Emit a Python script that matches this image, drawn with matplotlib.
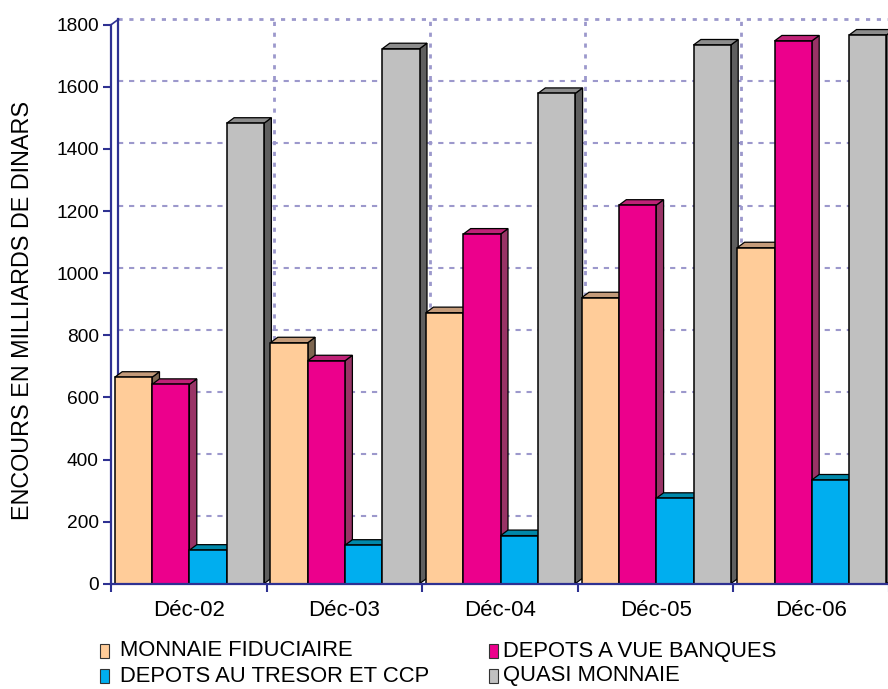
import matplotlib
matplotlib.use('Agg')
import matplotlib.pyplot as plt
from matplotlib.patches import Polygon, Rectangle

categories = ['Déc-02', 'Déc-03', 'Déc-04', 'Déc-05', 'Déc-06']
monnaie_fiduciaire = [665, 776, 873, 921, 1082]
depots_vue_banques = [642, 718, 1126, 1219, 1748]
depots_tresor_ccp = [108, 124, 155, 275, 334]
quasi_monnaie = [1483, 1723, 1579, 1735, 1767]
series_names = ['MONNAIE FIDUCIAIRE', 'DEPOTS A VUE BANQUES',
                'DEPOTS AU TRESOR ET CCP', 'QUASI MONNAIE']
yticks = list(range(0, 1801, 200))

# (front, top, side) colour of each series
colors = [('#ffcc99', '#c49b7a', '#7d6650'),
          ('#ec008c', '#bf2277', '#993366'),
          ('#00aeef', '#0088aa', '#006c8a'),
          ('#c0c0c0', '#8c8c8c', '#5f5f5f')]
axis_blue = '#2e3192'
grid_col = '#9c98cc'

plt.rcParams['font.family'] = 'Liberation Sans'

W, H = 888, 689
# plot area in pixels (front plane)
left_px, right_px, base_px, top_px = 111, 889, 583.7, 24.8
px_cat = (right_px - left_px) / len(categories)
px_val = (base_px - top_px) / 1800

fig = plt.figure(figsize=(W / 100, H / 100), dpi=100)
ax = fig.add_axes([left_px / W, 1 - base_px / H,
                   (right_px - left_px) / W, (base_px - top_px) / H])
ax.set_xlim(0, len(categories))
ax.set_ylim(0, 1800)

# 3d depth in data units
dx = 7.4 / px_cat
dy = 5.5 / px_val
bar_w = 37.3 / px_cat
bar_off = 3.8 / px_cat


def bar3d(x0, h, cols, z):
    front, top, side = cols
    ax.add_patch(Polygon([(x0 + bar_w, 0), (x0 + bar_w + dx, dy),
                          (x0 + bar_w + dx, h + dy), (x0 + bar_w, h)],
                         facecolor=side, edgecolor='black', lw=0.9,
                         zorder=z, clip_on=False))
    ax.add_patch(Polygon([(x0, h), (x0 + bar_w, h), (x0 + bar_w + dx, h + dy),
                          (x0 + dx, h + dy)],
                         facecolor=top, edgecolor='black', lw=0.9,
                         zorder=z, clip_on=False))
    ax.add_patch(Rectangle((x0, 0), bar_w, h, facecolor=front,
                           edgecolor='black', lw=1.1, zorder=z + 0.1,
                           clip_on=False))


# back wall grid
for v in yticks[1:-1]:
    ax.plot([dx, len(categories) + 0.1], [v + dy, v + dy], color=grid_col,
            lw=1.5, ls=(0, (2.5, 2.8)), zorder=0, clip_on=False)
ax.plot([dx, len(categories) + 0.1], [1800 + dy] * 2, color=grid_col,
        lw=2.0, ls=(0, (1.5, 2.4)), zorder=0, clip_on=False)
for k in range(1, len(categories)):
    ax.plot([k + dx, k + dx], [dy, 1800 + dy], color=grid_col,
            lw=2.0, ls=(0, (1.5, 2.4)), zorder=0, clip_on=False)
ax.plot([dx, dx], [dy, 1800 + dy], color=axis_blue, lw=1.6, zorder=0.5,
        clip_on=False)
ax.plot([0, dx], [1800, 1800 + dy], color=axis_blue, lw=1.2, zorder=0.5,
        clip_on=False)

data = [monnaie_fiduciaire, depots_vue_banques, depots_tresor_ccp,
        quasi_monnaie]
z = 2
for i in range(len(categories)):
    for j, series in enumerate(data):
        bar3d(i + bar_off + j * bar_w, series[i], colors[j], z)
        z += 0.2

for s in ['top', 'right']:
    ax.spines[s].set_visible(False)
for s in ['left', 'bottom']:
    ax.spines[s].set_color(axis_blue)
    ax.spines[s].set_linewidth(1.6)
    ax.spines[s].set_zorder(10)

ax.set_yticks(yticks)
ax.tick_params(axis='y', length=5.8, width=1.5, color=axis_blue, pad=3,
               labelsize=13.8)
ax.set_xticks(range(len(categories) + 1))
ax.set_xticklabels([])
ax.tick_params(axis='x', which='major', length=5.8, width=1.5,
               color=axis_blue)
ax.set_xticks([i + 0.5 for i in range(len(categories))], minor=True)
ax.set_xticklabels(categories, minor=True)
ax.tick_params(axis='x', which='minor', length=0, pad=12, labelsize=16)

fig.text(23 / W, 1 - 310 / H, 'ENCOURS EN MILLIARDS DE DINARS',
         rotation=90, ha='center', va='center', fontsize=16.8)

# legend, laid out in two columns below the plot
leg_pos = [(100, 651), (489, 651), (100, 676), (489, 676)]
for (lx, ly), name, cols in zip(leg_pos, series_names, colors):
    fig.patches.append(Rectangle((lx / W, 1 - (ly + 7) / H), 9 / W, 14 / H,
                                 transform=fig.transFigure,
                                 facecolor=cols[0], edgecolor='#333333',
                                 lw=0.8))
    fig.text((lx + 20 if lx < 300 else lx + 14) / W, 1 - ly / H, name,
             ha='left', va='center', fontsize=15.8)

fig.savefig('out.png', dpi=100)
